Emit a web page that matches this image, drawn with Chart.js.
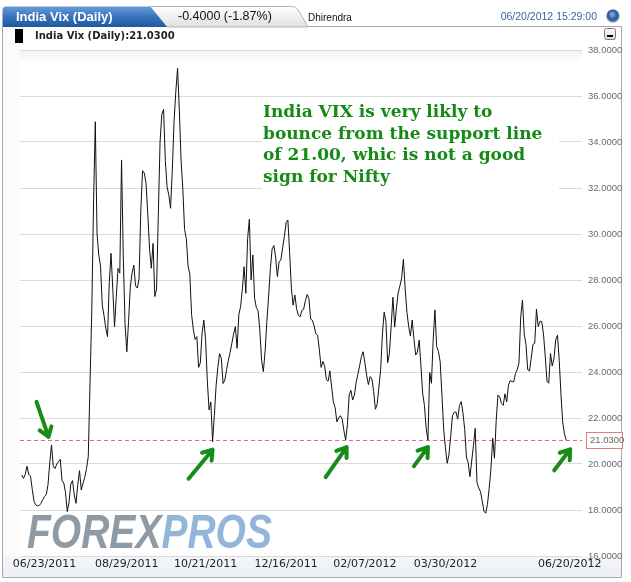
<!DOCTYPE html>
<html>
<head>
<meta charset="utf-8">
<script src="https://cdn.jsdelivr.net/npm/chart.js@4.4.1/dist/chart.umd.min.js"></script>
<style>
  html, body { margin: 0; padding: 0; background: #fff; }
  #chart { display: block; }
</style>
</head>
<body>
<canvas id="chart" width="631" height="582"></canvas>
<script>
// India VIX daily closes, 06/2011 - 06/20/2012
const vix = [
  19.52, 19.37, 19.55, 19.9, 19.55, 19.47, 18.9, 18.38, 18.22, 18.18,
  18.2, 18.29, 18.45, 18.58, 18.67, 19.1, 20.05, 20.83, 19.9, 19.8,
  20.0, 20.1, 20.2, 19.28, 19.17, 18.76, 17.93, 18.33, 19.12, 19.28,
  18.66, 18.29, 19.1, 19.71, 18.87, 19.16, 19.42, 19.8, 20.32, 23.5,
  26.7, 31.3, 34.88, 30.0, 29.08, 28.6, 26.9, 26.45, 25.9, 25.54,
  27.9, 29.16, 27.6, 25.97, 27.28, 28.5, 28.3, 33.22, 29.0, 26.1,
  24.88, 26.2, 27.7, 28.3, 28.65, 27.75, 27.65, 28.05, 31.0, 32.75,
  32.65, 32.2, 30.85, 29.35, 28.51, 29.59, 27.28, 27.6, 30.8, 34.0,
  35.2, 35.42, 33.2, 32.04, 31.7, 31.12, 32.8, 34.9, 36.2, 37.2,
  35.4, 33.2, 31.95, 30.2, 29.8, 28.6, 28.26, 26.5, 25.85, 25.42,
  25.54, 24.2, 24.4, 25.7, 26.26, 25.4, 23.6, 22.35, 22.7, 20.97,
  22.1, 23.4, 24.2, 24.8, 24.6, 23.5, 23.65, 24.1, 24.5, 24.85,
  25.25, 25.65, 25.97, 25.03, 26.5, 26.84, 27.6, 28.58, 27.42, 29.8,
  30.64, 28.0, 29.09, 27.2, 26.8, 26.66, 25.8, 24.5, 24.02, 24.9,
  26.2, 27.3, 28.5, 29.35, 29.5, 29.0, 28.15, 28.8, 28.87, 29.4,
  29.9, 30.5, 30.61, 29.2, 27.65, 26.91, 27.35, 26.75, 26.46, 26.4,
  26.68, 26.73, 27.1, 27.37, 27.2, 26.3, 26.25, 26.0, 25.66, 25.6,
  24.95, 24.2, 24.46, 24.25, 23.67, 23.6, 24.05, 23.35, 22.7, 22.45,
  21.83, 22.0, 22.1, 21.95, 21.45, 21.04, 21.7, 23.0, 23.2, 22.78,
  22.99, 23.55, 23.9, 24.28, 24.67, 24.88, 24.4, 23.86, 23.45, 23.8,
  23.7, 23.15, 22.38, 22.6, 23.35, 24.1, 25.65, 26.6, 26.2, 24.4,
  24.81, 26.0, 27.25, 25.95, 26.78, 27.44, 27.74, 28.1, 28.9, 27.62,
  26.6, 25.98, 25.56, 26.26, 25.45, 24.74, 24.87, 25.39, 24.3, 23.06,
  22.55, 21.55, 21.04, 23.98, 23.51, 25.4, 26.7, 25.1, 24.9, 24.44,
  23.0, 21.5, 20.7, 20.03, 20.4, 21.2, 22.1, 22.25, 22.26, 21.95,
  22.55, 22.71, 22.23, 21.5, 20.3, 20.05, 19.45, 20.13, 20.8, 21.55,
  19.2, 18.96, 18.8, 18.4, 17.95, 17.86, 18.25, 18.95, 19.8, 21.12,
  20.25, 21.9, 23.0, 22.93, 22.63, 22.55, 23.05, 22.7, 23.43, 23.63,
  23.58, 23.58, 23.94, 24.1, 24.4, 26.4, 27.13, 25.65, 25.2, 24.1,
  24.05, 24.6, 25.2, 25.25, 26.73, 25.98, 26.2, 26.2, 25.65, 24.7,
  23.6, 23.51, 24.8, 24.26, 24.6, 25.4, 25.6, 24.5, 23.0, 21.8,
  21.3, 21.03
];

// date labels and the trading-day index they sit at
const xTickLabels = ['06/23/2011', '08/29/2011', '10/21/2011', '12/16/2011', '02/07/2012', '03/30/2012', '06/20/2012'];
const xTickAt = [13, 60, 105, 151, 196, 242, 313];

const yMin = 16, yMax = 38, yStep = 2;
const support = 21.03;
const lastValue = 21.03;
const change = '-0.4000 (-1.87%)';
const stamp = '06/20/2012 15:29:00';
const author = 'Dhirendra';
const title = 'India Vix (Daily)';

const note = [
  'India VIX is very likly to',
  'bounce from the support line',
  'of 21.00, whic is not a good',
  'sign for Nifty'
];

// green arrows: the day they point at, tip offset from that point, tail vector
const arrows = [
  { at: 17,  tip: [-3, -8], tail: [-12, -35] },
  { at: 109, tip: [0, 8],   tail: [-24, 29] },
  { at: 185, tip: [1, 7],   tail: [-21, 30] },
  { at: 232, tip: [0, 7],   tail: [-14, 19] },
  { at: 311, tip: [4, 9],   tail: [-16, 21] }
];

const W = 631, H = 582;

const decor = {
  id: 'decor',
  beforeDraw(chart) {
    const { ctx, chartArea: a } = chart;
    ctx.save();
    ctx.fillStyle = '#fff';
    ctx.fillRect(0, 0, W, H);

    // panel body
    ctx.fillStyle = '#fbfbfb';
    ctx.fillRect(3, 27, 618, 550);
    let g = ctx.createLinearGradient(0, a.bottom, 0, 577);
    g.addColorStop(0, '#f4f6f9');
    g.addColorStop(1, '#eceff3');
    ctx.fillStyle = g;
    ctx.fillRect(3, a.bottom, 618, 577 - a.bottom);
    ctx.fillStyle = '#fff';
    ctx.fillRect(a.right, 27, 621 - a.right, a.bottom - 27);
    ctx.fillRect(a.left, 27, a.right - a.left, a.top - 27);
    g = ctx.createLinearGradient(0, a.top, 0, a.top + 12);
    g.addColorStop(0, '#f1f1f1');
    g.addColorStop(1, '#ffffff');
    ctx.fillStyle = g;
    ctx.fillRect(a.left, a.top, a.right - a.left, a.bottom - a.top);

    // panel border
    ctx.strokeStyle = '#a8a8a8';
    ctx.lineWidth = 1;
    ctx.beginPath();
    ctx.moveTo(2.5, 27);
    ctx.lineTo(2.5, 577.5);
    ctx.lineTo(621.5, 577.5);
    ctx.lineTo(621.5, 26.5);
    ctx.lineTo(307, 26.5);
    ctx.stroke();

    // grey tab
    ctx.beginPath();
    ctx.moveTo(150, 6.5);
    ctx.lineTo(292, 6.5);
    ctx.quadraticCurveTo(296, 6.5, 298, 9.5);
    ctx.lineTo(308, 27);
    ctx.lineTo(167, 27);
    ctx.closePath();
    g = ctx.createLinearGradient(0, 6, 0, 27);
    g.addColorStop(0, '#ffffff');
    g.addColorStop(1, '#e0e0e0');
    ctx.fillStyle = g;
    ctx.fill();
    ctx.strokeStyle = '#b4b4b4';
    ctx.stroke();

    // blue tab
    ctx.beginPath();
    ctx.moveTo(2.5, 27);
    ctx.lineTo(2.5, 10);
    ctx.quadraticCurveTo(2.5, 6.5, 6, 6.5);
    ctx.lineTo(150, 6.5);
    ctx.lineTo(167, 27);
    ctx.closePath();
    g = ctx.createLinearGradient(0, 6, 0, 27);
    g.addColorStop(0, '#6a9fdb');
    g.addColorStop(0.5, '#3a74bd');
    g.addColorStop(1, '#1d589f');
    ctx.fillStyle = g;
    ctx.fill();

    ctx.textBaseline = 'middle';
    ctx.fillStyle = '#fff';
    ctx.font = 'bold 13px "Liberation Sans"';
    ctx.fillText(title, 16, 17);
    ctx.fillStyle = '#111';
    ctx.font = '12.5px "Liberation Sans"';
    ctx.fillText(change, 178, 17);
    ctx.font = '10px "Liberation Sans"';
    ctx.fillText(author, 308, 18);
    ctx.fillStyle = '#3b64a0';
    ctx.font = '10.5px "Liberation Sans"';
    ctx.textAlign = 'right';
    ctx.fillText(stamp, 597, 17);
    ctx.textAlign = 'left';

    // round button
    g = ctx.createRadialGradient(612, 14, 1, 613, 16, 7);
    g.addColorStop(0, '#7fa6d6');
    g.addColorStop(0.55, '#2a5b9c');
    g.addColorStop(0.75, '#3d679c');
    g.addColorStop(1, '#d5dde8');
    ctx.fillStyle = g;
    ctx.beginPath();
    ctx.arc(613, 16, 7, 0, Math.PI * 2);
    ctx.fill();

    // legend row
    ctx.fillStyle = '#000';
    ctx.fillRect(15, 29, 8, 14);
    ctx.fillStyle = '#222';
    ctx.font = 'bold 10px "DejaVu Sans"';
    ctx.fillText(title + ':' + lastValue.toFixed(4), 35, 36);

    // minimise button
    g = ctx.createLinearGradient(0, 28, 0, 40);
    g.addColorStop(0, '#ffffff');
    g.addColorStop(1, '#d6d6d6');
    ctx.fillStyle = g;
    ctx.strokeStyle = '#7a7a7a';
    ctx.beginPath();
    ctx.roundRect(604.5, 28.5, 11, 11, 2);
    ctx.fill();
    ctx.stroke();
    ctx.fillStyle = '#000';
    ctx.fillRect(607, 35, 6, 2);
    ctx.restore();
  },
  beforeDatasetsDraw(chart) {
    const { ctx, chartArea: a, scales } = chart;
    ctx.save();
    // watermark
    ctx.font = 'italic bold 49px "Liberation Sans"';
    ctx.textBaseline = 'alphabetic';
    const w1 = ctx.measureText('FOREX').width;
    const w2 = ctx.measureText('PROS').width;
    ctx.translate(a.left + 7, a.bottom - 8);
    ctx.scale(245 / (w1 + w2), 1);
    ctx.fillStyle = '#8f9aa7';
    ctx.fillText('FOREX', 0, 0);
    ctx.fillStyle = '#94b5da';
    ctx.fillText('PROS', w1, 0);
    ctx.restore();

    // support line
    const y = Math.round(scales.y.getPixelForValue(support)) + 0.5;
    ctx.save();
    ctx.strokeStyle = '#d8707a';
    ctx.lineWidth = 1;
    ctx.setLineDash([4, 3]);
    ctx.beginPath();
    ctx.moveTo(a.left, y);
    ctx.lineTo(a.right, y);
    ctx.stroke();
    ctx.restore();
  },
  afterDraw(chart) {
    const { ctx, chartArea: a, scales } = chart;
    ctx.save();
    // value box on the axis
    const y = Math.round(scales.y.getPixelForValue(support)) + 0.5;
    ctx.fillStyle = '#fff';
    ctx.strokeStyle = '#e07d7d';
    ctx.fillRect(a.right + 4, y - 8, 36, 16);
    ctx.strokeRect(a.right + 4.5, y - 8, 36, 16);
    ctx.fillStyle = '#666';
    ctx.font = '9.5px "Liberation Sans"';
    ctx.textBaseline = 'middle';
    ctx.fillText(support.toFixed(4), a.right + 8, y);

    // note
    ctx.fillStyle = '#fff';
    ctx.fillRect(262, 98, 297, 99);
    ctx.fillStyle = '#168a16';
    ctx.font = 'bold 17px "DejaVu Serif"';
    ctx.textBaseline = 'alphabetic';
    note.forEach((line, i) => ctx.fillText(line, 263, 117 + i * 21.5));

    // arrows
    ctx.strokeStyle = '#178c17';
    ctx.lineWidth = 4;
    ctx.lineCap = 'round';
    ctx.lineJoin = 'round';
    arrows.forEach(ar => {
      const px = scales.x.getPixelForValue(ar.at);
      const py = scales.y.getPixelForValue(vix[ar.at]);
      const tx = px + ar.tip[0], ty = py + ar.tip[1];
      const sx = tx + ar.tail[0], sy = ty + ar.tail[1];
      const ang = Math.atan2(ty - sy, tx - sx);
      ctx.beginPath();
      ctx.moveTo(sx, sy);
      ctx.lineTo(tx, ty);
      ctx.moveTo(tx - 11 * Math.cos(ang - 0.6), ty - 11 * Math.sin(ang - 0.6));
      ctx.lineTo(tx, ty);
      ctx.lineTo(tx - 11 * Math.cos(ang + 0.6), ty - 11 * Math.sin(ang + 0.6));
      ctx.stroke();
    });
    ctx.restore();
  }
};

new Chart(document.getElementById('chart'), {
  type: 'line',
  data: {
    datasets: [{
      data: vix.map((v, i) => ({ x: i, y: v })),
      borderColor: '#111',
      borderWidth: 1,
      pointRadius: 0,
      tension: 0,
      fill: false
    }]
  },
  options: {
    responsive: false,
    animation: false,
    events: [],
    layout: { padding: { left: 20, top: 50, right: 0, bottom: 0 } },
    plugins: { legend: { display: false }, tooltip: { enabled: false } },
    scales: {
      x: {
        type: 'linear',
        min: -1,
        max: 320,
        afterBuildTicks: s => { s.ticks = xTickAt.map(v => ({ value: v })); },
        afterFit: s => { s.height = 26; s.paddingLeft = 0; s.paddingRight = 0; },
        ticks: {
          autoSkip: false,
          maxRotation: 0,
          padding: 2,
          color: '#222',
          font: { family: 'DejaVu Sans', size: 11 },
          callback: (v, i) => xTickLabels[i]
        },
        grid: { display: false, drawTicks: false },
        border: { display: false }
      },
      y: {
        position: 'right',
        min: yMin,
        max: yMax,
        afterFit: s => { s.width = 49; s.paddingTop = 0; s.paddingBottom = 0; },
        ticks: {
          stepSize: yStep,
          padding: 6,
          color: '#6a6a6a',
          font: { family: 'Liberation Sans', size: 9.5 },
          callback: v => v.toFixed(4)
        },
        grid: { color: '#dadada', drawTicks: false },
        border: { display: false }
      }
    }
  },
  plugins: [decor]
});
</script>
</body>
</html>
